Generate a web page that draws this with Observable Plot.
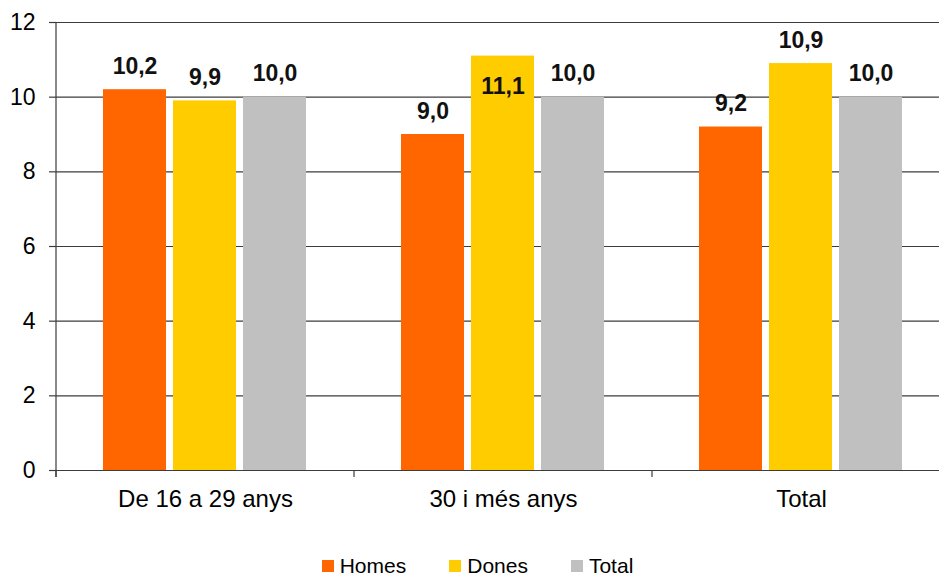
<!DOCTYPE html>
<html>
<head>
<meta charset="utf-8">
<script src="https://cdn.jsdelivr.net/npm/d3@7"></script>
<script src="https://cdn.jsdelivr.net/npm/@observablehq/plot@0.6"></script>
<style>
  html, body { margin: 0; padding: 0; background: #fff; overflow: hidden; width: 939px; height: 576px; position: relative; }
  #chart svg { display: block; max-width: none !important; }
  #legend { position: absolute; left: 0; width: 939px; top: 556px; height: 20px; line-height: 20px;
    display: flex; justify-content: center; gap: 43px; padding-left: 16px; box-sizing: border-box; align-items: center;
    font-family: "Liberation Sans", Arial, sans-serif; font-size: 21px; color: #000; }
  #legend .item { display: flex; align-items: center; height: 20px; }
  #legend .sw { width: 12px; height: 12px; margin-right: 6px; }
</style>
</head>
<body>
<div id="chart"></div>
<div id="legend"></div>
<script>
const groups = ["De 16 a 29 anys", "30 i més anys", "Total"];
const series = ["Homes", "Dones", "Total"];
const homes = [10.2, 9.0, 9.2];
const dones = [9.9, 11.1, 10.9];
const total = [10.0, 10.0, 10.0];
const colors = ["#FF6600", "#FFCC00", "#C0C0C0"];
const yTicks = [0, 2, 4, 6, 8, 10, 12];

const valuesBySeries = [homes, dones, total];
const data = [];
groups.forEach((g, gi) => {
  series.forEach((s, si) => {
    data.push({group: g, series: s, value: valuesBySeries[si][gi]});
  });
});
const fmt = d => d.value.toFixed(1).replace(".", ",");
const gridColor = "#3c3c3c";

const plot = Plot.plot({
  width: 950,
  height: 530,
  marginLeft: 56,
  marginRight: 0,
  marginTop: 22,
  marginBottom: 60,
  style: {fontFamily: "'Liberation Sans', Arial, sans-serif", color: "#000", background: "#fff"},
  fx: {domain: groups, padding: 0, label: null},
  x: {domain: series, paddingInner: 0.093, paddingOuter: 0.675, axis: null},
  y: {domain: [0, 12], label: null},
  color: {domain: series, range: colors},
  marks: [
    Plot.gridY(yTicks, {stroke: gridColor, strokeOpacity: 1, strokeWidth: 1.2}),
    Plot.barY(data, {fx: "group", x: "series", y: "value", fill: "series"}),
    Plot.text(data.filter(d => d.value <= 11), {fx: "group", x: "series", y: "value", text: fmt,
      dy: -16, lineAnchor: "bottom", fontSize: 23, fontWeight: "bold", fill: "#111"}),
    Plot.text(data.filter(d => d.value > 11), {fx: "group", x: "series", y: "value", text: fmt,
      dy: 22, lineAnchor: "top", fontSize: 23, fontWeight: "bold", fill: "#111"}),
    Plot.axisY({ticks: yTicks, tickSize: 7, tickPadding: 14, fontSize: 23, stroke: gridColor, strokeWidth: 1.2, label: null, tickFormat: d => String(d)}),
    Plot.axisFx({anchor: "bottom", tickSize: 0, tickPadding: 19, fontSize: 24, label: null})
  ]
});

document.getElementById("chart").appendChild(plot);

// Category boundary ticks and the vertical value axis line, positioned with Plot's own scales
const fxS = plot.scale("fx");
const yS = plot.scale("y");
const svg = d3.select(plot);
const y0 = yS.apply(0), yTop = yS.apply(12);
const bounds = groups.map(g => fxS.apply(g));
bounds.push(fxS.apply(groups[groups.length - 1]) + fxS.step);
const g = svg.append("g").attr("stroke", gridColor).attr("stroke-width", 1.2);
g.append("line").attr("x1", bounds[0]).attr("x2", bounds[0]).attr("y1", yTop).attr("y2", y0 + 7);
bounds.forEach(b => {
  g.append("line").attr("x1", b).attr("x2", b).attr("y1", y0).attr("y2", y0 + 7);
});

// Legend
const legend = d3.select("#legend");
series.forEach((s, i) => {
  const it = legend.append("div").attr("class", "item");
  it.append("div").attr("class", "sw").style("background", colors[i]);
  it.append("span").text(s);
});
</script>
</body>
</html>
